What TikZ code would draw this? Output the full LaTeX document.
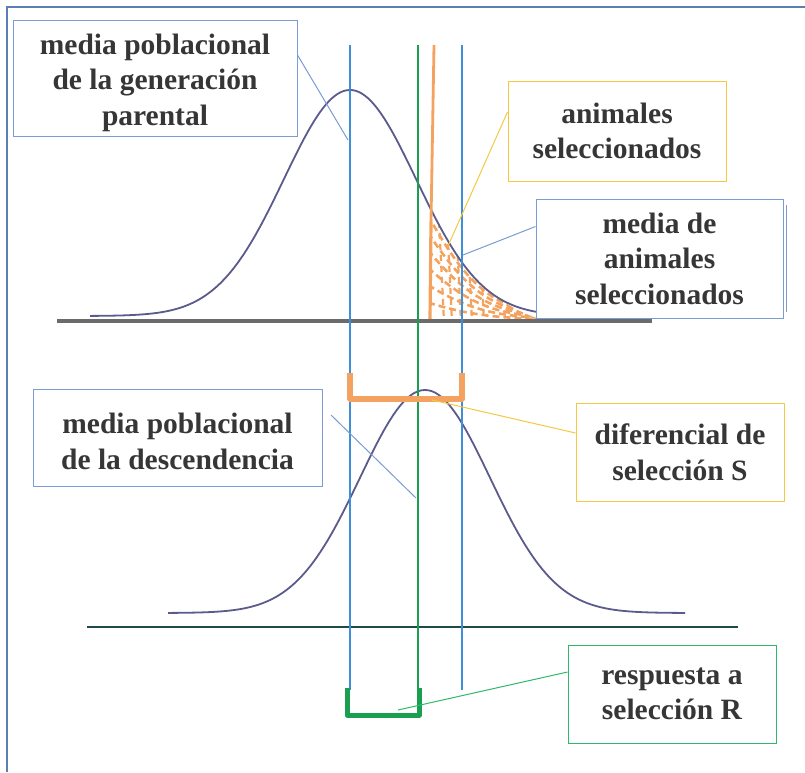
\documentclass[tikz,border=0pt]{standalone}
\usepackage{fontspec}
\setmainfont{Liberation Serif}
\usetikzlibrary{calc}
\definecolor{frameblue}{HTML}{5B7FB5}
\definecolor{boxblue}{HTML}{7B9BD4}
\definecolor{lineblue}{HTML}{3C8FD8}
\definecolor{linegreen}{HTML}{1A9E50}
\definecolor{boxgreen}{HTML}{2EB86A}
\definecolor{orangec}{HTML}{F3A35F}
\definecolor{yellowc}{HTML}{F5C842}
\definecolor{curvec}{HTML}{5A5A8C}
\definecolor{txtc}{HTML}{363636}
\definecolor{basegray}{HTML}{6B6B6B}
\definecolor{baseteal}{HTML}{1E4A4A}
\tikzset{
  lbl/.style={draw, line width=1pt, fill=white, align=center, text=txtc,
    font=\fontsize{29.5}{35.5}\selectfont\bfseries, inner sep=0pt},
  vline/.style={line width=2.8pt},
  conn/.style={line width=1pt},
  bell/.style={draw=curvec, line width=1.8pt},
}
\begin{document}
\begin{tikzpicture}[x=1pt,y=-1pt]
\useasboundingbox (0,0) rectangle (805,772);
% outer frame
\draw[frameblue, line width=1.2pt] (7,772) -- (7,7) -- (805,7);

% upper curve region fill (orange dashes)
\begin{scope}
\clip (430,{316-226*exp(-0.5*((430-350)/66)^2)-3})
  -- plot[domain=430:545,samples=60] (\x,{316-226*exp(-0.5*((\x-350)/66)^2)+(\x>500)*((\x-500)/6)})
  -- (545,320) -- (430,320) -- cycle;
\foreach \k in {0.15,0.3,0.45,0.6,0.75,0.9}{
  \draw[orangec, line width=2.6pt, dash pattern=on 7pt off 4pt]
    plot[domain=428:545,samples=50] (\x,{320-\k*(320-(316-226*exp(-0.5*((\x-350)/66)^2)))});
}
\foreach \xx in {438,446,455,466,478}{
  \draw[orangec, line width=2.2pt, dash pattern=on 6pt off 5pt] (\xx,200) -- (\xx+6,322);
}
\end{scope}
\draw[orangec, line width=3.2pt] (431,222) -- (430,320);

% upper bell curve and baseline
\draw[bell] plot[domain=90:540,samples=150] (\x,{316-226*exp(-0.5*((\x-350)/66)^2)});
\draw[basegray, line width=3.5pt] (57,321) -- (652,321);

% lower bell curve and baseline
\draw[bell] plot[domain=168:685,samples=150] (\x,{613-223*exp(-0.5*((\x-425)/65)^2)});
\draw[baseteal, line width=2.2pt] (87,627) -- (738,627);

% vertical lines
\draw[vline, lineblue] (350,45) -- (350,690);
\draw[vline, linegreen] (418,45) -- (418,712);
\draw[vline, orangec] (434,45) -- (431,222);
\draw[vline, lineblue] (462,45) -- (462,690);

% brackets
\draw[orangec, line width=5.5pt, line join=round] (350,373) -- (350,399) -- (462,399) -- (462,373);
\draw[linegreen, line width=5pt, line join=round] (347,688) -- (347,715) -- (419,715) -- (419,688);

% boxes
\node[lbl, draw=boxblue, minimum width=284pt, minimum height=116pt] (b1) at (155,78)
  {\rule{0pt}{30pt}media poblacional\\de la generación\\parental};
\node[lbl, draw=yellowc, minimum width=218pt, minimum height=100pt] (an) at (617,131)
  {animales\\seleccionados};
\draw[boxblue, line width=1pt] (786,205) -- (786,312);
\node[lbl, draw=boxblue, minimum width=247pt, minimum height=119pt] (md) at (659.5,258.5)
  {media de\\animales\\seleccionados};
\node[lbl, draw=boxblue, minimum width=289pt, minimum height=97pt] (de) at (177.5,437.5)
  {\rule{0pt}{28pt}media poblacional\\de la descendencia};
\node[lbl, draw=yellowc, minimum width=208pt, minimum height=98pt] (di) at (680,452)
  {diferencial de\\selección S};
\node[lbl, draw=boxgreen, minimum width=208pt, minimum height=98pt] (re) at (672,694)
  {respuesta a\\selección R};

% connector target points
\coordinate (t1) at (348,140);
\coordinate (t2) at (448,246);
\coordinate (t3) at (463,255);
\coordinate (s4) at (331,415);
\coordinate (t4) at (416,498);
\coordinate (t5) at (432,400);
\coordinate (t6) at (398,710);

% connectors
\draw[conn, boxblue] ($(b1.east)+(0,-23)$) -- (t1);
\draw[conn, yellowc] ($(an.west)+(0,-19)$) -- (t2);
\draw[conn, boxblue] ($(md.west)+(0,-32)$) -- (t3);
\draw[conn, boxblue] (s4) -- (t4);
\draw[conn, yellowc] ($(di.west)+(0,-19)$) -- (t5);
\draw[conn, boxgreen] ($(re.west)+(0,-22)$) -- (t6);
\end{tikzpicture}
\end{document}
